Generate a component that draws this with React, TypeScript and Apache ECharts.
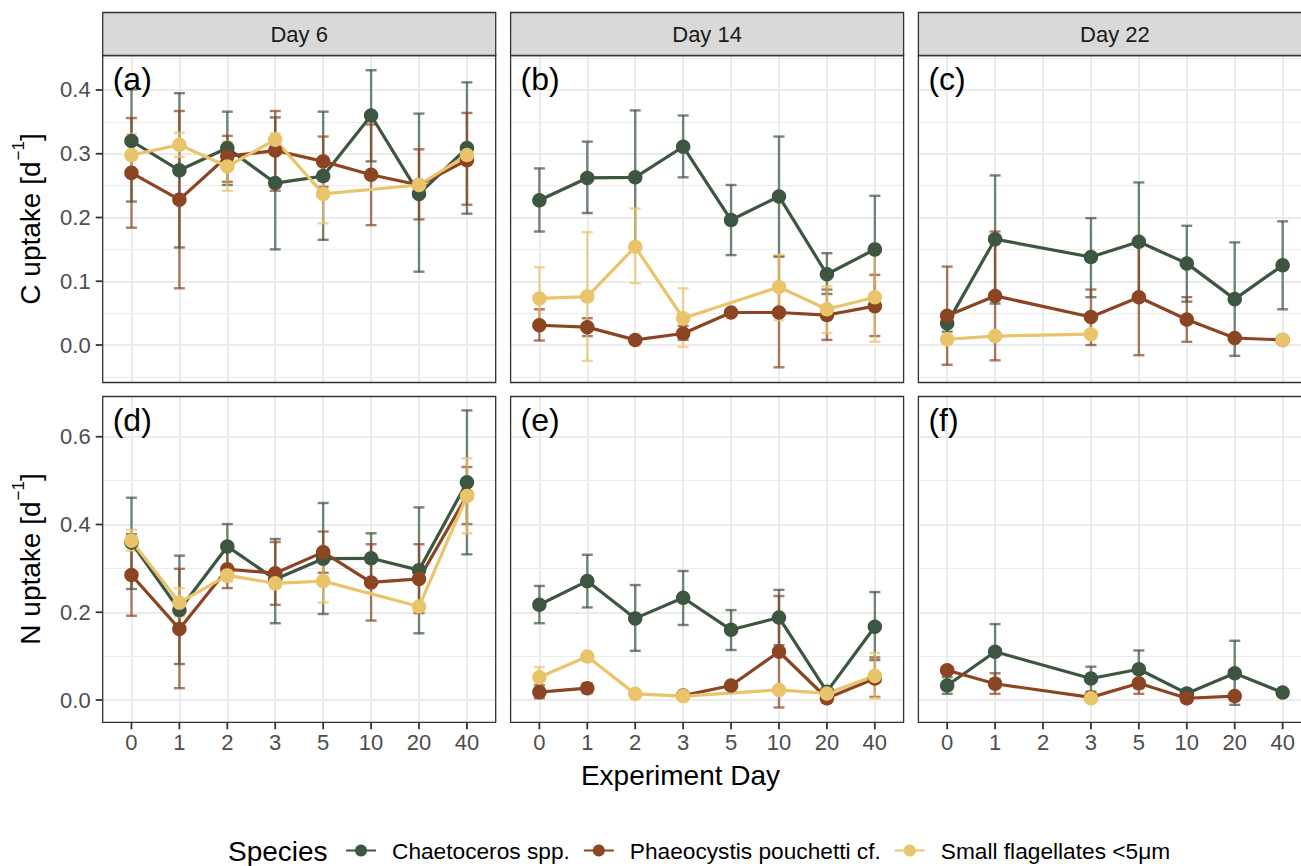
import React, { useEffect, useRef } from 'react';
import * as echarts from 'echarts';

// ---------- categories / labels ----------
const days = ['0', '1', '2', '3', '5', '10', '20', '40'];
const species = ['Chaetoceros spp.', 'Phaeocystis pouchetti cf.', 'Small flagellates <5μm'];
const speciesColors = ['#3D5641', '#8C4522', '#E9C46A'];
const stripLabels = ['Day 6', 'Day 14', 'Day 22'];
const panelTags = ['(a)', '(b)', '(c)', '(d)', '(e)', '(f)'];
const cTicks = [0, 0.1, 0.2, 0.3, 0.4];
const nTicks = [0, 0.2, 0.4, 0.6];
const cLimits = [-0.0588, 0.4541];
const nLimits = [-0.0508, 0.6917];
const xLimits = [-0.6, 7.6];

// null = no measurement (line connects across), '-' = NA (line breaks)
// ---------- C uptake, Day 6 (a) ----------
const C6_chaeto = [0.320, 0.274, 0.309, 0.254, 0.265, 0.360, 0.237, 0.309];
const C6_chaeto_lo = [0.225, 0.153, 0.251, 0.150, 0.165, 0.288, 0.115, 0.206];
const C6_chaeto_hi = [0.401, 0.395, 0.366, 0.357, 0.366, 0.431, 0.363, 0.412];
const C6_phaeo = [0.270, 0.228, 0.296, 0.305, 0.288, 0.267, 0.251, 0.290];
const C6_phaeo_lo = [0.184, 0.089, 0.256, 0.242, 0.248, 0.188, 0.197, 0.220];
const C6_phaeo_hi = [0.356, 0.367, 0.328, 0.367, 0.327, 0.346, 0.307, 0.364];
const C6_flag = [0.298, 0.314, 0.280, 0.322, 0.237, null, 0.251, 0.298];
const C6_flag_lo = [0.267, 0.295, 0.242, 0.312, 0.191, null, 0.245, 0.288];
const C6_flag_hi = [0.331, 0.333, 0.319, 0.332, 0.283, null, 0.257, 0.308];

// ---------- C uptake, Day 14 (b) ----------
const C14_chaeto = [0.227, 0.262, 0.263, 0.311, 0.196, 0.233, 0.111, 0.150];
const C14_chaeto_lo = [0.178, 0.207, 0.158, 0.263, 0.141, 0.139, 0.080, 0.066];
const C14_chaeto_hi = [0.277, 0.319, 0.368, 0.360, 0.251, 0.327, 0.144, 0.234];
const C14_phaeo = [0.031, 0.028, 0.008, 0.018, 0.051, 0.051, 0.047, 0.061];
const C14_phaeo_lo = [0.007, 0.014, null, 0.008, null, -0.035, 0.008, 0.014];
const C14_phaeo_hi = [0.056, 0.042, null, 0.030, null, 0.139, 0.087, 0.110];
const C14_flag = [0.073, 0.076, 0.154, 0.042, null, 0.091, 0.056, 0.075];
const C14_flag_lo = [0.026, -0.025, 0.097, -0.003, null, 0.039, 0.019, 0.005];
const C14_flag_hi = [0.122, 0.177, 0.214, 0.089, null, 0.141, 0.092, 0.149];

// ---------- C uptake, Day 22 (c) ----------
const C22_chaeto = [0.034, 0.166, null, 0.138, 0.162, 0.128, 0.072, 0.125];
const C22_chaeto_lo = [0.021, 0.065, null, 0.075, 0.070, 0.068, -0.017, 0.056];
const C22_chaeto_hi = [0.047, 0.266, null, 0.199, 0.255, 0.187, 0.161, 0.194];
const C22_phaeo = [0.046, 0.077, null, 0.044, 0.075, 0.040, 0.011, 0.008];
const C22_phaeo_lo = [-0.031, -0.024, null, 0.000, -0.016, 0.005, null, null];
const C22_phaeo_hi = [0.123, 0.178, null, 0.087, 0.166, 0.075, null, null];
const C22_flag = [0.009, 0.014, null, 0.017, '-', '-', '-', 0.008];
const C22_flag_lo = [null, null, null, null, null, null, null, null];
const C22_flag_hi = [null, null, null, null, null, null, null, null];

// ---------- N uptake, Day 6 (d) ----------
const N6_chaeto = [0.359, 0.205, 0.350, 0.275, 0.322, 0.323, 0.296, 0.496];
const N6_chaeto_lo = [0.253, 0.082, 0.296, 0.175, 0.196, 0.266, 0.152, 0.332];
const N6_chaeto_hi = [0.461, 0.329, 0.401, 0.367, 0.449, 0.380, 0.439, 0.660];
const N6_phaeo = [0.285, 0.162, 0.298, 0.289, 0.337, 0.268, 0.276, 0.466];
const N6_phaeo_lo = [0.192, 0.027, 0.255, 0.217, 0.290, 0.181, 0.198, 0.401];
const N6_phaeo_hi = [0.378, 0.299, 0.341, 0.360, 0.384, 0.355, 0.355, 0.531];
const N6_flag = [0.363, 0.222, 0.284, 0.266, 0.271, null, 0.213, 0.465];
const N6_flag_lo = [0.340, 0.190, 0.270, 0.255, 0.222, null, 0.205, 0.380];
const N6_flag_hi = [0.388, 0.255, 0.297, 0.277, 0.320, null, 0.221, 0.551];

// ---------- N uptake, Day 14 (e) ----------
const N14_chaeto = [0.217, 0.271, 0.186, 0.233, 0.160, 0.188, 0.019, 0.167];
const N14_chaeto_lo = [0.175, 0.211, 0.112, 0.171, 0.114, 0.125, null, 0.091];
const N14_chaeto_hi = [0.260, 0.331, 0.262, 0.294, 0.205, 0.251, null, 0.246];
const N14_phaeo = [0.018, 0.027, '-', 0.010, 0.033, 0.110, 0.004, 0.049];
const N14_phaeo_lo = [0.004, 0.016, null, null, null, -0.017, null, 0.007];
const N14_phaeo_hi = [0.034, 0.038, null, null, null, 0.237, null, 0.097];
const N14_flag = [0.052, 0.099, 0.014, 0.009, null, 0.023, 0.015, 0.055];
const N14_flag_lo = [0.030, null, null, null, null, null, null, 0.004];
const N14_flag_hi = [0.075, null, null, null, null, null, null, 0.107];

// ---------- N uptake, Day 22 (f) ----------
const N22_chaeto = [0.033, 0.110, null, 0.049, 0.070, 0.015, 0.061, 0.017];
const N22_chaeto_lo = [0.014, 0.048, null, 0.019, 0.027, 0.005, -0.011, null];
const N22_chaeto_hi = [0.052, 0.173, null, 0.076, 0.113, 0.025, 0.135, null];
const N22_phaeo = [0.068, 0.037, null, 0.006, 0.038, 0.004, 0.009, null];
const N22_phaeo_lo = [null, 0.014, null, null, 0.014, null, null, null];
const N22_phaeo_hi = [null, 0.061, null, null, 0.061, null, null, null];
const N22_flag = [null, null, null, 0.004, null, null, null, null];
const N22_flag_lo = [null, null, null, null, null, null, null, null];
const N22_flag_hi = [null, null, null, null, null, null, null, null];

// ---------- layout ----------
const FONT = '"Liberation Sans", Arial, Helvetica, sans-serif';
const panelLefts = [102.7, 510.6, 918.4];
const panelW = 393;
const rowTops = [55.5, 396.5];
const rowHeights = [327, 325.8];
const stripTop = 12.5;
const stripH = 43;
const capHalf = 0.115;
const tickLen = 7;
const tickThick = 1.8;

const panels = [
  { row: 0, col: 0, mean: [C6_chaeto, C6_phaeo, C6_flag], lo: [C6_chaeto_lo, C6_phaeo_lo, C6_flag_lo], hi: [C6_chaeto_hi, C6_phaeo_hi, C6_flag_hi] },
  { row: 0, col: 1, mean: [C14_chaeto, C14_phaeo, C14_flag], lo: [C14_chaeto_lo, C14_phaeo_lo, C14_flag_lo], hi: [C14_chaeto_hi, C14_phaeo_hi, C14_flag_hi] },
  { row: 0, col: 2, mean: [C22_chaeto, C22_phaeo, C22_flag], lo: [C22_chaeto_lo, C22_phaeo_lo, C22_flag_lo], hi: [C22_chaeto_hi, C22_phaeo_hi, C22_flag_hi] },
  { row: 1, col: 0, mean: [N6_chaeto, N6_phaeo, N6_flag], lo: [N6_chaeto_lo, N6_phaeo_lo, N6_flag_lo], hi: [N6_chaeto_hi, N6_phaeo_hi, N6_flag_hi] },
  { row: 1, col: 1, mean: [N14_chaeto, N14_phaeo, N14_flag], lo: [N14_chaeto_lo, N14_phaeo_lo, N14_flag_lo], hi: [N14_chaeto_hi, N14_phaeo_hi, N14_flag_hi] },
  { row: 1, col: 2, mean: [N22_chaeto, N22_phaeo, N22_flag], lo: [N22_chaeto_lo, N22_phaeo_lo, N22_flag_lo], hi: [N22_chaeto_hi, N22_phaeo_hi, N22_flag_hi] },
];

function rgba(hex: string, a: number) {
  const n = parseInt(hex.slice(1), 16);
  return `rgba(${(n >> 16) & 255},${(n >> 8) & 255},${n & 255},${a})`;
}

function buildOption() {
  const xIdx = days.map((_, k) => k);
  const grid: any[] = [];
  const xAxis: any[] = [];
  const yAxis: any[] = [];
  const lineSeries: any[] = [];
  const barSeries: any[] = [];
  const pointSeries: any[] = [];
  const graphic: any[] = [];

  panels.forEach((p, i) => {
    const left = panelLefts[p.col];
    const top = rowTops[p.row];
    const height = rowHeights[p.row];
    const lim = p.row === 0 ? cLimits : nLimits;
    const ticks = p.row === 0 ? cTicks : nTicks;
    grid.push({ left, top, width: panelW, height, show: false, containLabel: false, outerBoundsMode: 'none' });
    xAxis.push({
      type: 'value', gridIndex: i, min: xLimits[0], max: xLimits[1], position: 'bottom',
      axisLine: { show: false, onZero: false },
      axisTick: { show: false, customValues: xIdx },
      axisLabel: {
        show: p.row === 1, customValues: xIdx, formatter: (v: number) => days[Math.round(v)],
        color: '#4D4D4D', fontSize: 22, fontFamily: FONT, margin: 9,
      },
      splitLine: { show: true, lineStyle: { color: '#EBEBEB', width: 2 } },
    });
    yAxis.push({
      type: 'value', gridIndex: i, min: lim[0], max: lim[1], splitNumber: p.row === 0 ? 5 : 4, position: 'left',
      axisLine: { show: false, onZero: false },
      axisTick: { show: false, customValues: ticks },
      axisLabel: {
        show: p.col === 0, customValues: ticks, formatter: (v: number) => v.toFixed(1),
        color: '#4D4D4D', fontSize: 22, fontFamily: FONT, margin: 12,
      },
      splitLine: { show: true, lineStyle: { color: '#EBEBEB', width: 2 } },
      minorTick: { show: false, splitNumber: 2 },
      minorSplitLine: { show: true, lineStyle: { color: '#EBEBEB', width: 1 } },
    });

    // outside tick marks (axis decoration), same linear mapping as the value axes
    if (p.col === 0) {
      ticks.forEach((v, j) => {
        const py = top + (height * (lim[1] - v)) / (lim[1] - lim[0]);
        graphic.push({
          type: 'rect', id: `yt${i}_${j}`, z: 120, silent: true,
          shape: { x: left - tickLen, y: py - tickThick / 2, width: tickLen, height: tickThick },
          style: { fill: '#333333' },
        });
      });
    }
    if (p.row === 1) {
      xIdx.forEach((k) => {
        const px = left + (panelW * (k - xLimits[0])) / (xLimits[1] - xLimits[0]);
        graphic.push({
          type: 'rect', id: `xt${i}_${k}`, z: 120, silent: true,
          shape: { x: px - tickThick / 2, y: top + height, width: tickThick, height: tickLen },
          style: { fill: '#333333' },
        });
      });
    }

    species.forEach((name, s) => {
      const color = speciesColors[s];
      const mean = p.mean[s];
      const lo = p.lo[s];
      const hi = p.hi[s];
      const lineData: any[] = [];
      const pts: any[] = [];
      const bars: any[] = [];
      mean.forEach((v: any, k: number) => {
        if (v === null) return;
        lineData.push([k, v]);
        if (v !== '-') pts.push([k, v]);
        if (lo[k] !== null && hi[k] !== null && v !== '-') bars.push([k, lo[k], hi[k]]);
      });
      lineSeries.push({
        type: 'line', name, xAxisIndex: i, yAxisIndex: i, data: lineData,
        showSymbol: false, symbol: 'circle', symbolSize: 14, connectNulls: false,
        lineStyle: { color, width: 3.2 }, itemStyle: { color }, z: 3, silent: true,
      });
      barSeries.push({
        type: 'custom', name, xAxisIndex: i, yAxisIndex: i, data: bars, z: 2, silent: true,
        encode: { x: 0, y: [1, 2] },
        renderItem: (_params: any, api: any) => {
          const x = api.value(0);
          const l = api.value(1);
          const h = api.value(2);
          const pl = api.coord([x, l]);
          const ph = api.coord([x, h]);
          const cl = api.coord([x - capHalf, l]);
          const cr = api.coord([x + capHalf, h]);
          const st = { stroke: rgba(color, 0.7), lineWidth: 2.4 };
          return {
            type: 'group',
            children: [
              { type: 'line', shape: { x1: pl[0], y1: pl[1], x2: ph[0], y2: ph[1] }, style: st },
              { type: 'line', shape: { x1: cl[0], y1: ph[1], x2: cr[0], y2: ph[1] }, style: st },
              { type: 'line', shape: { x1: cl[0], y1: pl[1], x2: cr[0], y2: pl[1] }, style: st },
            ],
          };
        },
      });
      pointSeries.push({
        type: 'scatter', name, xAxisIndex: i, yAxisIndex: i, data: pts,
        symbol: 'circle', symbolSize: 14.5, itemStyle: { color, opacity: 1 }, z: 4, silent: true,
      });
    });

    graphic.push({
      type: 'rect', id: 'border' + i, z: 100, silent: true,
      shape: { x: left, y: top, width: panelW, height },
      style: { fill: 'none', stroke: '#333333', lineWidth: 1.3 },
    });
    graphic.push({
      type: 'text', id: 'tag' + i, z: 101, silent: true, x: left + 10, y: top + 23,
      style: { text: panelTags[i], fontSize: 32, fontFamily: FONT, fill: '#000000', verticalAlign: 'middle', align: 'left' },
    });
    if (p.row === 0) {
      graphic.push({
        type: 'rect', id: 'strip' + i, z: 100, silent: true,
        shape: { x: left, y: stripTop, width: panelW, height: stripH },
        style: { fill: '#D9D9D9', stroke: '#333333', lineWidth: 1.3 },
      });
      graphic.push({
        type: 'text', id: 'stripText' + i, z: 101, silent: true, x: left + panelW / 2, y: stripTop + stripH / 2,
        style: { text: stripLabels[p.col], fontSize: 22, fontFamily: FONT, fill: '#1A1A1A', align: 'center', verticalAlign: 'middle' },
      });
    }
  });

  const richTitle = (prefix: string) => ({
    text: `{n|${prefix} [d}{s|−1}{n|]}`,
    align: 'center', verticalAlign: 'middle',
    rich: {
      n: { fontSize: 28, fontFamily: FONT, fill: '#000000', lineHeight: 34, verticalAlign: 'bottom' },
      s: { fontSize: 17, fontFamily: FONT, fill: '#000000', lineHeight: 34, verticalAlign: 'top', padding: [0, 0, 0, 1] },
    },
  });
  graphic.push({ type: 'text', id: 'ytitleC', silent: true, x: 27, y: 219, rotation: Math.PI / 2, style: richTitle('C uptake') });
  graphic.push({ type: 'text', id: 'ytitleN', silent: true, x: 27, y: 559, rotation: Math.PI / 2, style: richTitle('N uptake') });
  graphic.push({
    type: 'text', id: 'xtitle', silent: true, x: 680.5, y: 775,
    style: { text: 'Experiment Day', fontSize: 28, fontFamily: FONT, fill: '#000000', align: 'center', verticalAlign: 'middle' },
  });
  graphic.push({
    type: 'text', id: 'legendTitle', silent: true, x: 228, y: 851,
    style: { text: 'Species', fontSize: 28, fontFamily: FONT, fill: '#000000', align: 'left', verticalAlign: 'middle' },
  });

  return {
    animation: false,
    backgroundColor: '#FFFFFF',
    grid, xAxis, yAxis,
    legend: {
      data: species, left: 345, top: 839, orient: 'horizontal', padding: 0,
      itemWidth: 30, itemHeight: 15, itemGap: 13, selectedMode: false,
      textStyle: { fontSize: 22.7, fontFamily: FONT, color: '#000000', padding: [0, 0, 0, 11] },
    },
    graphic,
    series: [...lineSeries, ...barSeries, ...pointSeries],
  };
}

export default function App() {
  const ref = useRef<HTMLDivElement>(null);
  useEffect(() => {
    const chart = echarts.init(ref.current!, null, { renderer: 'svg' });
    chart.setOption(buildOption() as any);
    return () => chart.dispose();
  }, []);
  return (
    <div style={{ position: 'fixed', left: 0, top: 0, width: 1301, height: 866, overflow: 'hidden', background: '#FFFFFF' }}>
      <div ref={ref} style={{ width: 1330, height: 866 }} />
    </div>
  );
}
